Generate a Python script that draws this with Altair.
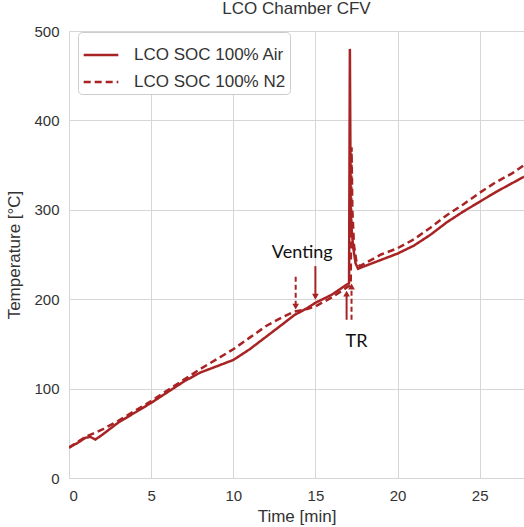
import altair as alt
import pandas as pd

COLOR = "#a82323"
FONT = "Liberation Sans, Arial, sans-serif"

air_t = [0, 0.5, 1.0, 1.3, 1.6, 2.0, 3, 4, 5, 6, 7, 8, 9, 10, 11, 12, 13, 13.7, 14.5, 15, 16, 16.8,
         17.05, 17.1, 17.15, 17.2, 17.3, 17.45, 17.6, 18, 19, 20, 21, 22, 23, 24, 25, 26, 27, 27.7]
air_y = [34, 39, 45, 46, 43, 48, 62, 73, 84, 96, 108, 118, 125, 132, 144, 158, 172, 182, 190, 196, 205, 215,
         218, 480, 300, 280, 258, 240, 234, 237, 244, 251, 260, 272, 286, 298, 309, 320, 330, 337]

n2_t = [0, 0.5, 1.0, 1.5, 2.0, 3, 4, 5, 6, 7, 8, 9, 10, 11, 12, 13, 13.7, 14.5, 15, 16, 17.15,
        17.2, 17.25, 17.35, 17.5, 17.7, 18, 19, 20, 21, 22, 23, 24, 25, 26, 27, 27.7]
n2_y = [34, 40, 46, 50, 54, 64, 75, 86, 98, 110, 122, 133, 144, 157, 170, 180, 186, 189, 192, 202, 216,
        370, 300, 260, 242, 237, 240, 250, 257, 267, 280, 294, 306, 319, 331, 341, 350]

series_names = ["LCO SOC 100% Air", "LCO SOC 100% N2"]

# arrows: x, tail y, tip y
solid_arrow_x = [15.0, 16.9]
solid_arrow_tail = [237, 177]
solid_arrow_tip = [205, 204]
solid_arrow_dir = ["down", "up"]

dash_arrow_x = [13.8, 17.2]
dash_arrow_tail = [225, 177]
dash_arrow_tip = [194, 212]
dash_arrow_dir = ["down", "up"]

label_text = ["Venting", "TR"]
label_x = [14.2, 17.5]
label_y = [252, 152]

df = pd.concat([
    pd.DataFrame({"t": air_t, "T": air_y, "s": series_names[0]}),
    pd.DataFrame({"t": n2_t, "T": n2_y, "s": series_names[1]}),
])

sarr = pd.DataFrame({"x": solid_arrow_x, "y1": solid_arrow_tail, "y2": solid_arrow_tip, "dir": solid_arrow_dir})
darr = pd.DataFrame({"x": dash_arrow_x, "y1": dash_arrow_tail, "y2": dash_arrow_tip, "dir": dash_arrow_dir})
heads = pd.concat([sarr, darr])
lab = pd.DataFrame({"text": label_text, "x": label_x, "y": label_y})

xs = alt.Scale(domain=[0, 27.7], nice=False, zero=False)
ys = alt.Scale(domain=[0, 500], nice=False)

leg = alt.Legend(title=None, orient="none", legendX=9, legendY=1)

lines = alt.Chart(df).mark_line(strokeWidth=2.5, clip=True).encode(
    x=alt.X("t:Q", scale=xs, title="Time [min]",
            axis=alt.Axis(values=[0, 5, 10, 15, 20, 25])),
    y=alt.Y("T:Q", scale=ys, title="Temperature [°C]",
            axis=alt.Axis(values=[0, 100, 200, 300, 400, 500])),
    color=alt.Color("s:N", scale=alt.Scale(domain=series_names, range=[COLOR, COLOR]), legend=leg),
    strokeDash=alt.StrokeDash("s:N", scale=alt.Scale(domain=series_names, range=[[1, 0], [7, 4]]), legend=leg),
    order="t:Q",
)

sshafts = alt.Chart(sarr).mark_rule(color=COLOR, strokeWidth=2).encode(
    x="x:Q", y="y1:Q", y2="y2:Q")
dshafts = alt.Chart(darr).mark_rule(color=COLOR, strokeWidth=2, strokeDash=[5, 3]).encode(
    x="x:Q", y="y1:Q", y2="y2:Q")

heads_down = alt.Chart(heads).transform_filter("datum.dir == 'down'").mark_point(
    shape="triangle-down", filled=True, color=COLOR, size=45, opacity=1, yOffset=2).encode(
    x="x:Q", y="y2:Q")
heads_up = alt.Chart(heads).transform_filter("datum.dir == 'up'").mark_point(
    shape="triangle-up", filled=True, color=COLOR, size=45, opacity=1, yOffset=-2).encode(
    x="x:Q", y="y2:Q")

texts = alt.Chart(lab).mark_text(font="Lato", fontSize=18, color="#111111").encode(
    x="x:Q", y="y:Q", text="text:N")

chart = alt.layer(lines, sshafts, dshafts, heads_down, heads_up, texts).properties(
    width=455, height=447,
    title=alt.TitleParams("LCO Chamber CFV", font=FONT, fontSize=17,
                          fontWeight="normal", color="#333333", offset=6),
    autosize=alt.AutoSizeParams(type="none"),
    padding={"left": 69, "top": 31, "right": 0, "bottom": 49},
).configure_view(
    stroke="#cccccc", strokeWidth=1
).configure_axis(
    grid=True, gridColor="#d6d6d6", gridWidth=1, domain=False, ticks=False,
    labelFont=FONT, labelFontSize=15, labelColor="#333333", labelPadding=10,
    titleFont=FONT, titleFontSize=17, titleFontWeight="normal", titleColor="#333333",
).configure_axisX(titlePadding=5).configure_axisY(titlePadding=10).configure_legend(
    labelFont=FONT, labelFontSize=17, labelColor="#333333",
    symbolType="stroke", symbolSize=1200, symbolStrokeWidth=2.5, rowPadding=-11,
    fillColor="white", strokeColor="#cccccc", cornerRadius=4, padding=4, labelOffset=14,
)

chart.save("out.html", embed_options={"renderer": "svg", "actions": False})
